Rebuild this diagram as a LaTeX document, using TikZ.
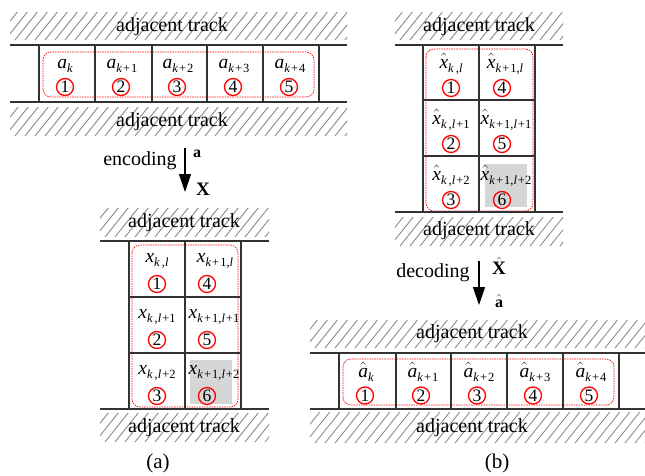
\documentclass[tikz,border=0pt]{standalone}
\usepackage{fontspec}
\setmainfont{Liberation Serif}
\usetikzlibrary{arrows.meta}
\tikzset{
 trk/.style={line width=1.2pt, draw=black!80},
 grp/.style={draw=red, line width=0.7pt, dash pattern=on 1.5pt off 1pt, rounded corners=8pt},
 hl/.style={draw=black!50, line width=0.8pt},
 cn/.style={circle, draw=red, line width=1.3pt, minimum size=17pt, inner sep=0pt, font=\fontsize{17.5}{17.5}\selectfont},
 tt/.style={font=\fontsize{20}{24}\selectfont, anchor=base, inner sep=0pt},
 lb/.style={font=\fontsize{19.5}{20}\selectfont, anchor=base, inner sep=0pt},
 bl/.style={font=\fontsize{19}{20}\selectfont\bfseries, anchor=base, inner sep=0pt},
 shade/.style={fill=black!16, draw=none},
 arr/.style={line width=1.2pt, -{Triangle[length=18pt,width=12pt]}},
}
\newcommand\sbs[1]{\raisebox{-4.5pt}{\fontsize{12.5}{13}\selectfont #1}}
\newcommand\hatbox[1]{\ensuremath{\hat{\mbox{#1}}}}
\newcommand\kp[1]{\textit{k}\kern1pt+\kern1pt#1}
\newcommand\hatchband[4]{\begin{scope}\clip (#1,#2) rectangle (#3,#4);
 \foreach \i in {0,...,40}{\draw[hl] ({#1-25+10*\i},#4) -- ++({0.8*(#4-#2)},{-(#4-#2)});}
 \end{scope}}
\begin{document}
\begin{tikzpicture}[x=1pt,y=-1pt]
\useasboundingbox (0,0) rectangle (645,475);
%% ---------- top-left: track with a_k ----------
\hatchband{10}{12}{347}{40}
\hatchband{10}{107}{347}{136}
\node[tt] (tlTop) at (172,31) {adjacent track};
\node[tt] (tlBot) at (172,126) {adjacent track};
\draw[grp] (43,52) rectangle (314,97);
\draw[trk] (10,45) -- (347,45);
\draw[trk] (10,102) -- (347,102);
\foreach \x in {39,95,152,207,263,319}{\draw[trk] (\x,45) -- (\x,102);}
\node[lb] (a1) at (65,68) {\textit{a}\sbs{\textit{k}}};
\node[lb] (a2) at (122,68) {\textit{a}\sbs{\kp{1}}};
\node[lb] (a3) at (178,68) {\textit{a}\sbs{\kp{2}}};
\node[lb] (a4) at (234,68) {\textit{a}\sbs{\kp{3}}};
\node[lb] (a5) at (290,68) {\textit{a}\sbs{\kp{4}}};
\node[cn] (ca1) at (65,87) {1};
\node[cn] (ca2) at (121,87) {2};
\node[cn] (ca3) at (177,87) {3};
\node[cn] (ca4) at (233,87) {4};
\node[cn] (ca5) at (289,87) {5};
%% ---------- encoding arrow ----------
\coordinate (encS) at (185,148);
\coordinate (encE) at (185,192);
\draw[arr] (encS) -- (encE);
\node[tt] (enc) at (140,165) {encoding};
\node[bl, font=\fontsize{16}{16}\selectfont\bfseries] (encA) at (197,157) {a};
\node[bl] (encX) at (203,195) {X};
%% ---------- bottom-left: 2x3 block ----------
\hatchband{100}{208}{269}{237}
\hatchband{100}{413}{269}{442}
\node[tt] (blTop) at (184,227) {adjacent track};
\node[tt] (blBot) at (184,432) {adjacent track};
\fill[shade] (190,360) rectangle (232,404);
\draw[grp] (132,245) rectangle (238,407);
\draw[trk] (100,241) -- (269,241);
\draw[trk] (100,409) -- (269,409);
\foreach \x in {129,185,241}{\draw[trk] (\x,241) -- (\x,409);}
\foreach \y in {297,353}{\draw[trk] (129,\y) -- (241,\y);}
\node[lb] (x1) at (157,262) {\textit{x}\sbs{\textit{k}\kern2pt,\textit{l}}};
\node[lb] (x4) at (215,262) {\textit{x}\sbs{\kp{1},\textit{l}}};
\node[lb] (x2) at (157,318) {\textit{x}\sbs{\textit{k}\kern2pt,\textit{l}\kern1pt+1}};
\node[lb] (x5) at (214,318) {\textit{x}\sbs{\kp{1},\textit{l}\kern1pt+1}};
\node[lb] (x3) at (157,374) {\textit{x}\sbs{\textit{k}\kern2pt,\textit{l}\kern1pt+2}};
\node[lb] (x6) at (214,374) {\textit{x}\sbs{\kp{1},\textit{l}\kern1pt+2}};
\node[cn] (cx1) at (157,284) {1};
\node[cn] (cx2) at (157,340) {2};
\node[cn] (cx3) at (157,396) {3};
\node[cn] (cx4) at (207,284) {4};
\node[cn] (cx5) at (207,340) {5};
\node[cn] (cx6) at (207,396) {6};
\node[tt, font=\fontsize{21}{24}\selectfont] (capA) at (158,468) {(a)};
%% ---------- top-right: 2x3 block (decoded) ----------
\hatchband{395}{12}{563}{40}
\hatchband{395}{217}{563}{246}
\node[tt] (trTop) at (479,31) {adjacent track};
\node[tt] (trBot) at (479,235) {adjacent track};
\fill[shade] (485,164) rectangle (527,207);
\draw[grp] (426,49) rectangle (533,211);
\draw[trk] (395,45) -- (563,45);
\draw[trk] (395,212) -- (563,212);
\foreach \x in {423,479,535}{\draw[trk] (\x,45) -- (\x,212);}
\foreach \y in {100,156}{\draw[trk] (423,\y) -- (535,\y);}
\node[lb] (y1) at (451,68) {\hatbox{\itshape x}\sbs{\textit{k}\kern2pt,\textit{l}}};
\node[lb] (y4) at (505,68) {\hatbox{\itshape x}\sbs{\kp{1},\textit{l}}};
\node[lb] (y2) at (451,124) {\hatbox{\itshape x}\sbs{\textit{k}\kern2pt,\textit{l}\kern1pt+1}};
\node[lb] (y5) at (506,124) {\hatbox{\itshape x}\sbs{\kp{1},\textit{l}\kern1pt+1}};
\node[lb] (y3) at (451,180) {\hatbox{\itshape x}\sbs{\textit{k}\kern2pt,\textit{l}\kern1pt+2}};
\node[lb] (y6) at (506,180) {\hatbox{\itshape x}\sbs{\kp{1},\textit{l}\kern1pt+2}};
\node[cn] (cy1) at (451,88) {1};
\node[cn] (cy2) at (451,144) {2};
\node[cn] (cy3) at (451,200) {3};
\node[cn] (cy4) at (502,88) {4};
\node[cn] (cy5) at (502,144) {5};
\node[cn] (cy6) at (502,200) {6};
%% ---------- decoding arrow ----------
\coordinate (decS) at (479,261);
\coordinate (decE) at (479,305);
\draw[arr] (decS) -- (decE);
\node[tt] (dec) at (433,277) {decoding};
\node[bl] (decX) at (499,274) {\hatbox{\bfseries X}};
\node[bl, font=\fontsize{16}{16}\selectfont\bfseries] (decA) at (499,307) {\hatbox{\bfseries a}};
%% ---------- bottom-right: decoded track ----------
\hatchband{310}{320}{645}{348}
\hatchband{310}{412}{645}{443}
\node[tt] (brTop) at (472,338) {adjacent track};
\node[tt] (brBot) at (472,432) {adjacent track};
\draw[grp] (343,359) rectangle (614,405);
\draw[trk] (310,353) -- (645,353);
\draw[trk] (310,409) -- (645,409);
\foreach \x in {339,396,451,507,563,619}{\draw[trk] (\x,353) -- (\x,409);}
\node[lb] (b1) at (366,377) {\hatbox{\itshape a}\sbs{\textit{k}}};
\node[lb] (b2) at (423,377) {\hatbox{\itshape a}\sbs{\kp{1}}};
\node[lb] (b3) at (479,377) {\hatbox{\itshape a}\sbs{\kp{2}}};
\node[lb] (b4) at (535,377) {\hatbox{\itshape a}\sbs{\kp{3}}};
\node[lb] (b5) at (591,377) {\hatbox{\itshape a}\sbs{\kp{4}}};
\node[cn] (cb1) at (365,395.5) {1};
\node[cn] (cb2) at (421,395.5) {2};
\node[cn] (cb3) at (477,395.5) {3};
\node[cn] (cb4) at (533,395.5) {4};
\node[cn] (cb5) at (589,395.5) {5};
\node[tt, font=\fontsize{21}{24}\selectfont] (capB) at (497,468) {(b)};
\end{tikzpicture}
\end{document}
